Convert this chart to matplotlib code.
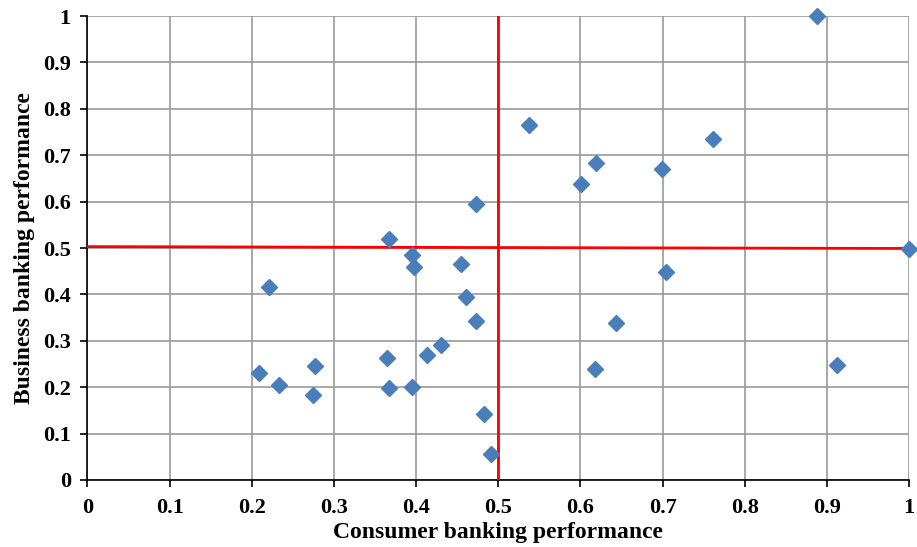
import matplotlib
matplotlib.use("Agg")
import matplotlib.pyplot as plt

# consumer (x) vs business (y) banking performance
consumer = [0.367, 0.4725, 0.888, 0.537, 0.601, 0.619, 0.699, 0.762, 1.0,
            0.395, 0.397, 0.455, 0.2205, 0.461, 0.4725, 0.430, 0.413, 0.3646,
            0.277, 0.209, 0.233, 0.275, 0.367, 0.395, 0.483, 0.491,
            0.704, 0.643, 0.618, 0.912]
business = [0.519, 0.5955, 1.0, 0.766, 0.639, 0.683, 0.670, 0.734, 0.498,
            0.485, 0.460, 0.466, 0.415, 0.394, 0.342, 0.292, 0.269, 0.264,
            0.245, 0.231, 0.205, 0.184, 0.198, 0.200, 0.1415, 0.056,
            0.448, 0.338, 0.240, 0.247]

# threshold lines
hline_x = [0, 1]
hline_y = [0.503, 0.499]
vline_x = [0.5, 0.5]
vline_y = [0, 1]

ticks = [0, 0.1, 0.2, 0.3, 0.4, 0.5, 0.6, 0.7, 0.8, 0.9, 1]
tick_labels = ["0", "0.1", "0.2", "0.3", "0.4", "0.5", "0.6", "0.7", "0.8", "0.9", "1"]

plt.rcParams['font.family'] = 'Liberation Serif'
plt.rcParams['font.weight'] = 'bold'

fig = plt.figure(figsize=(9.17, 5.47), dpi=100)
ax = fig.add_axes([0.0954, 0.1225, 0.8959, 0.8482])

ax.set_xlim(0, 1)
ax.set_ylim(0, 1)
ax.set_xticks(ticks)
ax.set_yticks(ticks)
ax.set_xticklabels(tick_labels, fontsize=16, fontweight='bold')
ax.set_yticklabels(tick_labels, fontsize=16, fontweight='bold')
ax.grid(True, color='#999999', linewidth=1.2)
ax.set_axisbelow(True)

for s in ['top', 'right']:
    ax.spines[s].set_visible(False)
for s in ['left', 'bottom']:
    ax.spines[s].set_color('black')
    ax.spines[s].set_linewidth(1.2)
ax.tick_params(direction='out', length=5, width=1.2, color='black')
ax.tick_params(axis='y', pad=7)
ax.tick_params(axis='x', pad=8)

ax.plot(hline_x, hline_y, color='#ff0000', linewidth=2, zorder=3)
ax.plot(vline_x, vline_y, color='#ff0000', linewidth=2, zorder=3)

ax.plot(consumer, business, linestyle='none', marker='D', markersize=8.5,
        color='#4a7ebb', zorder=4, clip_on=False)

ax.set_xlabel("Consumer banking performance", fontsize=17, fontweight='bold', labelpad=3)
ax.set_ylabel("Business banking performance", fontsize=17, fontweight='bold', labelpad=6)

plt.savefig('out.png', dpi=100)
